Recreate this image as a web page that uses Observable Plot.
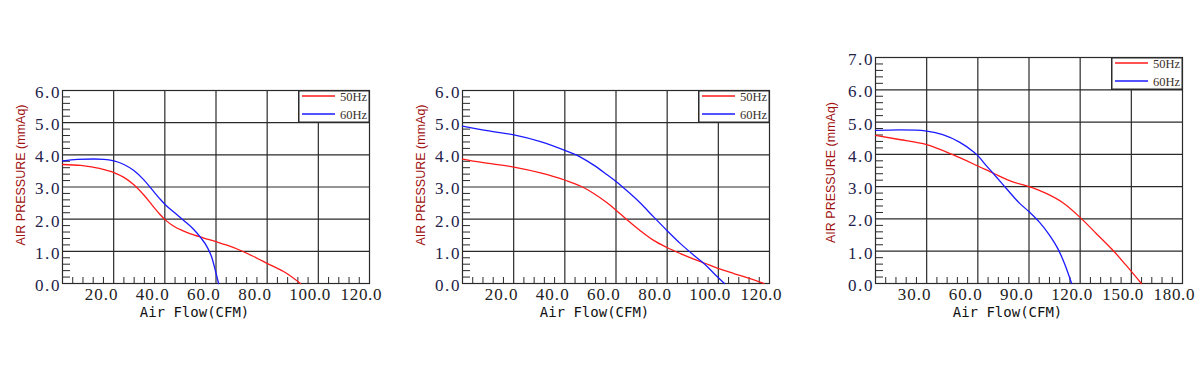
<!DOCTYPE html>
<html><head><meta charset="utf-8">
<script src="https://cdn.jsdelivr.net/npm/d3@7"></script>
<script src="https://cdn.jsdelivr.net/npm/@observablehq/plot@0.6"></script>
<style>
html,body{margin:0;padding:0;background:#fff;width:1200px;height:380px;overflow:hidden}
.panel{position:absolute;top:0;}
</style></head><body>
<div id="root"></div>
<script>
const seriesNames = ["50Hz", "60Hz"];
const seriesColors = ["#ff1a1a", "#1a1aff"];
const xTitle = "Air Flow(CFM)";
const yTitle = "AIR PRESSURE (mmAq)";

// Panel 1
const p1Flow50 = [0, 7.1, 14.9, 20.1, 24, 27.9, 31.8, 35.1, 38.3, 40.3, 43.5, 47.4, 51.3, 55, 60, 64.3, 70.1, 74.7, 80.1, 87.7, 93];
const p1Pres50 = [3.70, 3.67, 3.57, 3.45, 3.30, 3.07, 2.75, 2.43, 2.13, 1.97, 1.78, 1.63, 1.51, 1.42, 1.30, 1.19, 1.01, 0.84, 0.62, 0.31, 0.0];
const p1Flow60 = [0, 5.8, 12.3, 16.2, 20.1, 24, 27.9, 31.8, 35.1, 38.3, 40.3, 43.5, 47.4, 51.3, 53.9, 56.5, 58.4, 59.7, 61];
const p1Pres60 = [3.81, 3.86, 3.87, 3.86, 3.81, 3.70, 3.51, 3.22, 2.91, 2.61, 2.44, 2.22, 1.96, 1.68, 1.44, 1.14, 0.80, 0.42, 0.0];
const p1XTicks = [20, 40, 60, 80, 100, 120];
const p1YTicks = [0, 1, 2, 3, 4, 5, 6];

// Panel 2
const p2Flow50 = [0, 7, 20.1, 30.5, 40.2, 46.1, 51.3, 56.5, 60, 64.3, 69.5, 74.7, 79.9, 85.2, 90.4, 94.7, 99.9, 106, 111.2, 117.8];
const p2Pres50 = [3.87, 3.77, 3.62, 3.44, 3.21, 3.03, 2.80, 2.51, 2.28, 1.98, 1.64, 1.34, 1.12, 0.93, 0.76, 0.63, 0.47, 0.31, 0.18, 0.0];
const p2Flow60 = [0, 9.6, 20.1, 30.5, 40.2, 46.1, 51.3, 56.5, 60, 64.3, 69.5, 74.7, 79.9, 85.2, 90.4, 94.7, 98.2, 102.4];
const p2Pres60 = [4.89, 4.75, 4.62, 4.41, 4.13, 3.93, 3.68, 3.38, 3.17, 2.88, 2.50, 2.07, 1.65, 1.24, 0.88, 0.60, 0.32, 0.0];
const p2XTicks = [20, 40, 60, 80, 100, 120];
const p2YTicks = [0, 1, 2, 3, 4, 5, 6];

// Panel 3
const p3Flow50 = [0, 13.9, 30, 45.3, 60, 69.7, 80.5, 90.1, 100.1, 109.9, 120.1, 129.4, 139.2, 147, 155.9];
const p3Pres50 = [4.59, 4.46, 4.30, 3.99, 3.64, 3.40, 3.15, 3.00, 2.79, 2.50, 2.04, 1.55, 1.03, 0.56, 0.0];
const p3Flow60 = [0, 13.9, 23.7, 30, 39.4, 49.2, 57, 60, 64.8, 69.7, 76.6, 84.4, 90.1, 96.1, 102, 106.9, 110.8, 115];
const p3Pres60 = [4.74, 4.76, 4.75, 4.72, 4.61, 4.38, 4.10, 3.96, 3.66, 3.37, 2.95, 2.49, 2.22, 1.90, 1.50, 1.08, 0.62, 0.0];
const p3XTicks = [30, 60, 90, 120, 150, 180];
const p3YTicks = [0, 1, 2, 3, 4, 5, 6, 7];

const panels = [
  {left: 0, ml: 62, mr: 31, mt: 90, mb: 97, xMinorStep: 4, ytdx: -42, ytdy: -12,
   flows: [p1Flow50, p1Flow60], pres: [p1Pres50, p1Pres60], xTicks: p1XTicks, yTicks: p1YTicks},
  {left: 400, ml: 62, mr: 31, mt: 90, mb: 97, xMinorStep: 4, ytdx: -42, ytdy: -12,
   flows: [p2Flow50, p2Flow60], pres: [p2Pres50, p2Pres60], xTicks: p2XTicks, yTicks: p2YTicks},
  {left: 800, ml: 75, mr: 18, mt: 57, mb: 97, xMinorStep: 6, ytdx: -45, ytdy: 2,
   flows: [p3Flow50, p3Flow60], pres: [p3Pres50, p3Pres60], xTicks: p3XTicks, yTicks: p3YTicks}
];

const root = document.getElementById("root");
const W = 400, H = 380;
const fmt = d => d.toFixed(1);

panels.forEach(cfg => {
  const frameH = H - cfg.mt - cfg.mb;
  const frameW = W - cfg.ml - cfg.mr;
  const xMax = cfg.xTicks[cfg.xTicks.length - 1];
  const yMax = cfg.yTicks[cfg.yTicks.length - 1];
  const majorStep = cfg.xTicks[1] - cfg.xTicks[0];
  const xMinor = d3.range(cfg.xMinorStep, xMax, cfg.xMinorStep).filter(v => Math.abs(v / majorStep - Math.round(v / majorStep)) > 1e-6);
  const yMinor = d3.range(1, yMax * 5).map(v => v / 5).filter((v, i) => (i + 1) % 5 !== 0);
  const data = [];
  cfg.flows.forEach((fl, i) => fl.forEach((f, j) => data.push({series: seriesNames[i], flow: f, pres: cfg.pres[i][j]})));

  const plot = Plot.plot({
    width: W, height: H,
    marginLeft: cfg.ml, marginRight: cfg.mr, marginTop: cfg.mt, marginBottom: cfg.mb,
    x: {domain: [0, xMax], axis: null},
    y: {domain: [0, yMax], axis: null},
    color: {domain: seriesNames, range: seriesColors},
    style: {background: "transparent", overflow: "visible"},
    marks: [
      Plot.gridX(cfg.xTicks.slice(0, -1), {stroke: "#2a2a2a", strokeOpacity: 1, strokeWidth: 1.2}),
      Plot.gridY(cfg.yTicks.slice(1, -1), {stroke: "#2a2a2a", strokeOpacity: 1, strokeWidth: 1.2}),
      Plot.tickX(xMinor, {x: d => d, insetTop: frameH - 6, stroke: "#2a2a2a"}),
      Plot.tickY(yMinor, {y: d => d, insetRight: frameW - 8, stroke: "#2a2a2a"}),
      Plot.frame({stroke: "#2a2a2a", strokeWidth: 1.2}),
      Plot.line(data, {x: "flow", y: "pres", z: "series", stroke: "series", curve: "monotone-x", strokeWidth: 1.3}),
      Plot.text(cfg.xTicks, {x: d => d, frameAnchor: "bottom", text: fmt, textAnchor: "start", lineAnchor: "top",
        dx: -29, dy: 4, fill: "#222", fontFamily: "Liberation Serif", fontSize: 17}),
      Plot.text(cfg.yTicks, {y: d => d, frameAnchor: "left", text: fmt, textAnchor: "end",
        dx: -3, dy: 2, fill: "#22224a", fontFamily: "Liberation Serif", fontSize: 17}),
      Plot.text([xTitle], {frameAnchor: "bottom-left", dx: 132, dy: 33, textAnchor: "middle",
        fontFamily: "DejaVu Sans Mono", fontSize: 14, fill: "#111"}),
      Plot.text([yTitle], {frameAnchor: "left", rotate: -90, dx: cfg.ytdx, dy: cfg.ytdy, textAnchor: "middle",
        fontFamily: "Liberation Sans", fontSize: 12.5, fill: "#a01010"})
    ]
  });
  // monospaced-looking tick labels ("6. 0") like the original
  d3.select(plot).selectAll("text")
    .filter(function() { return /^\d+\.\d$/.test(this.textContent); })
    .each(function() {
      d3.select(this).attr("textLength", this.textContent.length * 8.2).attr("lengthAdjust", "spacing");
    });
  const wrap = document.createElement("div");
  wrap.className = "panel";
  wrap.style.left = cfg.left + "px";
  wrap.appendChild(plot);
  root.appendChild(wrap);

  // legend box in the top-right corner of the frame
  const lw = 72, lh = 33;
  const leg = d3.create("svg").attr("width", lw).attr("height", lh)
    .style("position", "absolute")
    .style("left", (cfg.left + W - cfg.mr - lw + 1) + "px")
    .style("top", cfg.mt + "px");
  leg.append("rect").attr("x", 0.75).attr("y", 0.75).attr("width", lw - 1.5).attr("height", lh - 1.5)
    .attr("fill", "#fff").attr("stroke", "#2a2a2a").attr("stroke-width", 1.5);
  seriesNames.forEach((name, i) => {
    const yy = i === 0 ? 6 : 24;
    leg.append("line").attr("x1", 4).attr("x2", 37).attr("y1", yy).attr("y2", yy)
      .attr("stroke", seriesColors[i]).attr("stroke-width", 1.3);
    leg.append("text").attr("x", 42).attr("y", yy + 4.5).text(name)
      .attr("font-family", "Liberation Serif").attr("font-size", 12.5).attr("fill", "#3a3028");
  });
  root.appendChild(leg.node());
});
</script>
</body></html>
